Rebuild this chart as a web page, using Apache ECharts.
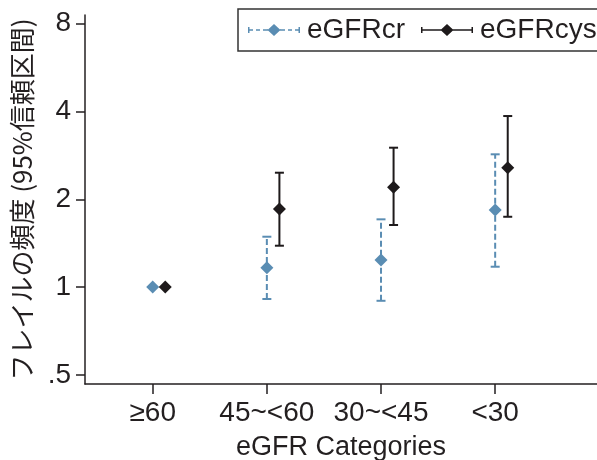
<!DOCTYPE html>
<html><head><meta charset="utf-8">
<script src="https://cdn.jsdelivr.net/npm/echarts@6/dist/echarts.min.js"></script>
<style>html,body{margin:0;padding:0;background:#fff}#c{width:597px;height:460px}</style>
</head><body><div id="c"></div>
<script>
const categories = ['≥60', '45~<60', '30~<45', '<30'];
const crEst  = [1.0, 1.165, 1.238, 1.837];
const crLow  = [null, 0.91, 0.897, 1.174];
const crHigh = [null, 1.488, 1.707, 2.853];
const cysEst  = [1.0, 1.852, 2.198, 2.567];
const cysLow  = [null, 1.386, 1.632, 1.742];
const cysHigh = [null, 2.467, 3.006, 3.86];
const yTickValues = [0.5, 1, 2, 4, 8];
const yTickLabels = ['.5', '1', '2', '4', '8'];

const CR_COLOR = '#5a8db3';
const CYS_COLOR = '#1e1a1b';
const TEXT = '#231f20';
const FONT = 'Liberation Sans';
const L2 = v => Math.log2(v);
const cysShift = 0.11;

function pts(est, shift) { return est.map((v, i) => [i + 1 + shift, L2(v)]); }
function bars(lo, hi, shift) {
  const out = [];
  lo.forEach((v, i) => { if (v != null) out.push([i + 1 + shift, L2(v), L2(hi[i])]); });
  return out;
}
function errRender(color, dashed) {
  return function (params, api) {
    const x = api.value(0);
    const p1 = api.coord([x, api.value(1)]);
    const p2 = api.coord([x, api.value(2)]);
    const hw = 4.5;
    const base = { stroke: color, lineWidth: 2 };
    return { type: 'group', children: [
      { type: 'line', shape: { x1: p1[0], y1: p1[1], x2: p2[0], y2: p2[1] },
        style: Object.assign({}, base, dashed ? { lineDash: [6, 3] } : {}) },
      { type: 'line', shape: { x1: p1[0] - hw, y1: p1[1], x2: p1[0] + hw, y2: p1[1] }, style: base },
      { type: 'line', shape: { x1: p2[0] - hw, y1: p2[1], x2: p2[0] + hw, y2: p2[1] }, style: base }
    ]};
  };
}
function iconPath(dashed) {
  let p = 'path://M0 3h1.5v6h-1.5Z M50.5 3h1.5v6h-1.5Z M26 0L32.5 6L26 12L19.5 6Z ';
  if (dashed) {
    const segs = [[1.5, 5], [8, 12], [15, 20], [32, 37], [40, 44], [47, 50.5]];
    segs.forEach(s => { p += 'M' + s[0] + ' 5.3h' + (s[1] - s[0]) + 'v1.4h' + (s[0] - s[1]) + 'Z '; });
  } else {
    p += 'M0 5.3h52v1.4h-52Z';
  }
  return p;
}

const chart = echarts.init(document.getElementById('c'), null, { renderer: 'canvas' });
chart.setOption({
  animation: false,
  textStyle: { fontFamily: FONT, color: TEXT },
  grid: { left: 85, right: 0, top: 15, bottom: 76, containLabel: false, outerBoundsMode: 'none' },
  legend: {
    left: 238, top: 9, width: 420, orient: 'horizontal',
    padding: [7, 10, 7, 10],
    borderColor: '#333', borderWidth: 1.5,
    itemWidth: 52, itemHeight: 12, itemGap: 16,
    textStyle: { fontSize: 28, color: TEXT, fontFamily: FONT, padding: [0, 0, 0, 2] },
    data: [
      { name: 'eGFRcr', icon: iconPath(true), itemStyle: { color: CR_COLOR } },
      { name: 'eGFRcys', icon: iconPath(false), itemStyle: { color: CYS_COLOR } }
    ]
  },
  xAxis: {
    type: 'value', min: 0.407, max: 4.892,
    name: 'eGFR Categories', nameLocation: 'middle', nameGap: 50,
    nameTextStyle: { fontSize: 27, color: TEXT, fontFamily: FONT },
    axisLine: { show: true, onZero: false, lineStyle: { color: TEXT, width: 1.5 } },
    axisTick: { show: true, length: 10, lineStyle: { color: TEXT, width: 1.5 }, customValues: [1, 2, 3, 4] },
    axisLabel: { fontSize: 28, color: TEXT, margin: 15, customValues: [1, 2, 3, 4],
      formatter: v => categories[Math.round(v) - 1] },
    splitLine: { show: false }
  },
  yAxis: {
    type: 'value', min: -1.105, max: 3.10,
    name: 'フレイルの頻度 (95%信頼区間)', nameLocation: 'middle', nameGap: 50,
    nameTextStyle: { fontSize: 26, color: TEXT, fontFamily: "'Noto Sans CJK JP', " + FONT },
    axisLine: { show: true, onZero: false, lineStyle: { color: TEXT, width: 1.5 } },
    axisTick: { show: true, length: 9, lineStyle: { color: TEXT, width: 1.5 }, customValues: yTickValues.map(L2) },
    axisLabel: { fontSize: 28, color: TEXT, margin: 14, customValues: yTickValues.map(L2),
      formatter: v => yTickLabels[yTickValues.findIndex(t => Math.abs(L2(t) - v) < 1e-6)] },
    splitLine: { show: false }
  },
  series: [
    { name: 'eGFRcr', type: 'custom', renderItem: errRender(CR_COLOR, true), itemStyle: { color: CR_COLOR },
      data: bars(crLow, crHigh, 0), encode: { x: 0, y: [1, 2] }, z: 2 },
    { name: 'eGFRcys', type: 'custom', renderItem: errRender(CYS_COLOR, false), itemStyle: { color: CYS_COLOR },
      data: bars(cysLow, cysHigh, cysShift), encode: { x: 0, y: [1, 2] }, z: 2 },
    { name: 'eGFRcr', type: 'scatter', symbol: 'diamond', symbolSize: [13, 13],
      itemStyle: { color: CR_COLOR, opacity: 1 }, data: pts(crEst, 0), z: 3 },
    { name: 'eGFRcys', type: 'scatter', symbol: 'diamond', symbolSize: [13, 13],
      itemStyle: { color: CYS_COLOR, opacity: 1 }, data: pts(cysEst, cysShift), z: 3 }
  ]
});
</script></body></html>
